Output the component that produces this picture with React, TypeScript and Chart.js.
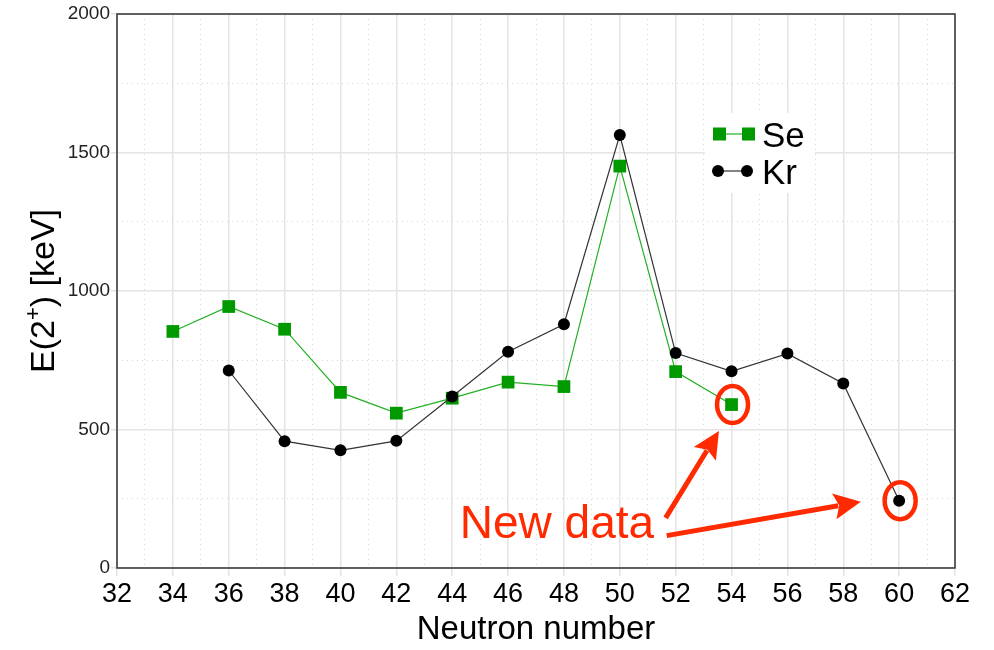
import React, { useEffect, useRef } from "react";
import { Chart, registerables } from "chart.js";

Chart.register(...registerables);

// ---- data ----
const seNeutrons = [34, 36, 38, 40, 42, 44, 46, 48, 50, 52, 54];
const seEnergies = [854, 944, 862, 634, 559, 613, 671, 655, 1451, 709, 590];
const krNeutrons = [36, 38, 40, 42, 44, 46, 48, 50, 52, 54, 56, 58, 60];
const krEnergies = [713, 458, 425, 459, 619, 781, 880, 1563, 776, 710, 774, 666, 243];

const xMin = 32;
const xMax = 62;
const yMin = 0;
const yMax = 2000;

const seLabel = "Se";
const krLabel = "Kr";
const xTitle = "Neutron number";
const yTitleMain = "E(2";
const yTitleSup = "+";
const yTitleEnd = ") [keV]";
const noteText = "New data";
// highlighted points (new data)
const newPoints = [
  { x: 54, y: 590 },
  { x: 60, y: 243 },
];
// annotation anchors in data units
const noteAnchor = { x: 44.27, y: 110 };
const arrows = [
  { from: { x: 51.64, y: 181 }, to: { x: 53.55, y: 495 } },
  { from: { x: 51.68, y: 117 }, to: { x: 58.63, y: 239 } },
];

const FONT = "'Liberation Sans', Arial, Helvetica, sans-serif";
const RED = "#ff2a00";
const GREEN = "#009a00";

const decorPlugin = {
  id: "decor",
  afterDatasetsDraw(chart: any) {
    const ctx = chart.ctx as CanvasRenderingContext2D;
    const ca = chart.chartArea;
    const xs = chart.scales.x;
    const ys = chart.scales.y;
    ctx.save();

    // frame
    ctx.strokeStyle = "#333";
    ctx.lineWidth = 1.5;
    ctx.strokeRect(ca.left, ca.top, ca.right - ca.left, ca.bottom - ca.top);

    // legend
    const lx = ca.left + 588;
    const ly = ca.top + 99;
    ctx.fillStyle = "#fff";
    ctx.fillRect(lx, ly, 110, 80);
    // Se
    const seY = ly + 21;
    ctx.strokeStyle = "#22b022";
    ctx.lineWidth = 1.2;
    ctx.beginPath();
    ctx.moveTo(lx + 14, seY);
    ctx.lineTo(lx + 43, seY);
    ctx.stroke();
    ctx.fillStyle = GREEN;
    ctx.fillRect(lx + 8, seY - 6.5, 13, 13);
    ctx.fillRect(lx + 37, seY - 6.5, 13, 13);
    // Kr
    const krY = ly + 58;
    ctx.strokeStyle = "#333";
    ctx.beginPath();
    ctx.moveTo(lx + 13, krY);
    ctx.lineTo(lx + 42, krY);
    ctx.stroke();
    ctx.fillStyle = "#000";
    ctx.beginPath();
    ctx.arc(lx + 13, krY, 6, 0, Math.PI * 2);
    ctx.fill();
    ctx.beginPath();
    ctx.arc(lx + 42, krY, 6, 0, Math.PI * 2);
    ctx.fill();
    ctx.font = `35px ${FONT}`;
    ctx.textBaseline = "alphabetic";
    ctx.textAlign = "left";
    ctx.fillText(seLabel, lx + 57, seY + 13);
    ctx.fillText(krLabel, lx + 57, krY + 13);

    // ellipses around new data
    ctx.strokeStyle = RED;
    ctx.lineWidth = 4.5;
    newPoints.forEach((p) => {
      const cx = xs.getPixelForValue(p.x) + 1;
      const cy = ys.getPixelForValue(p.y);
      ctx.beginPath();
      ctx.ellipse(cx, cy, 15.5, 18.5, 0, 0, Math.PI * 2);
      ctx.stroke();
    });

    // arrows
    arrows.forEach((a) => {
      const x1 = xs.getPixelForValue(a.from.x);
      const y1 = ys.getPixelForValue(a.from.y);
      const x2 = xs.getPixelForValue(a.to.x);
      const y2 = ys.getPixelForValue(a.to.y);
      const ang = Math.atan2(y2 - y1, x2 - x1);
      const headLen = 27;
      const headW = 13;
      const bx = x2 - headLen * Math.cos(ang);
      const by = y2 - headLen * Math.sin(ang);
      ctx.strokeStyle = RED;
      ctx.lineWidth = 5;
      ctx.beginPath();
      ctx.moveTo(x1, y1);
      ctx.lineTo(bx + 4 * Math.cos(ang), by + 4 * Math.sin(ang));
      ctx.stroke();
      ctx.fillStyle = RED;
      ctx.beginPath();
      ctx.moveTo(x2, y2);
      ctx.lineTo(bx - headW * Math.sin(ang), by + headW * Math.cos(ang));
      ctx.lineTo(bx + 5 * Math.cos(ang), by + 5 * Math.sin(ang));
      ctx.lineTo(bx + headW * Math.sin(ang), by - headW * Math.cos(ang));
      ctx.closePath();
      ctx.fill();
    });

    // note text
    ctx.fillStyle = RED;
    ctx.font = `46px ${FONT}`;
    ctx.textAlign = "left";
    ctx.textBaseline = "alphabetic";
    ctx.fillText(noteText, xs.getPixelForValue(noteAnchor.x), ys.getPixelForValue(noteAnchor.y));

    // y title with superscript
    const cxT = 42;
    const cyT = (ca.top + ca.bottom) / 2;
    ctx.translate(cxT, cyT);
    ctx.rotate(-Math.PI / 2);
    ctx.fillStyle = "#000";
    const big = `34px ${FONT}`;
    const small = `22px ${FONT}`;
    ctx.font = big;
    const w1 = ctx.measureText(yTitleMain).width;
    const w3 = ctx.measureText(yTitleEnd).width;
    ctx.font = small;
    const w2 = ctx.measureText(yTitleSup).width;
    const total = w1 + w2 + w3;
    let px = -total / 2;
    const base = 12;
    ctx.textAlign = "left";
    ctx.font = big;
    ctx.fillText(yTitleMain, px, base);
    px += w1;
    ctx.font = small;
    ctx.fillText(yTitleSup, px, base - 14);
    px += w2;
    ctx.font = big;
    ctx.fillText(yTitleEnd, px, base);

    ctx.restore();
  },
};

export default function App() {
  const canvasRef = useRef<HTMLCanvasElement | null>(null);

  useEffect(() => {
    if (!canvasRef.current) return;
    const chart = new Chart(canvasRef.current, {
      type: "line",
      data: {
        datasets: [
          {
            label: seLabel,
            data: seNeutrons.map((n, i) => ({ x: n, y: seEnergies[i] })),
            borderColor: "#22b022",
            borderWidth: 1.2,
            backgroundColor: GREEN,
            pointBackgroundColor: GREEN,
            pointBorderColor: GREEN,
            pointStyle: "rect",
            pointRadius: 9,
            pointBorderWidth: 0,
            tension: 0,
            order: 2,
          },
          {
            label: krLabel,
            data: krNeutrons.map((n, i) => ({ x: n, y: krEnergies[i] })),
            borderColor: "#333",
            borderWidth: 1.2,
            backgroundColor: "#000",
            pointBackgroundColor: "#000",
            pointBorderColor: "#000",
            pointStyle: "circle",
            pointRadius: 6,
            pointBorderWidth: 0,
            tension: 0,
            order: 1,
          },
        ],
      },
      options: {
        animation: false,
        responsive: false,
        layout: { padding: { top: 14, right: 39, left: 0, bottom: 0 } },
        plugins: {
          legend: { display: false },
          tooltip: { enabled: false },
        },
        scales: {
          x: {
            type: "linear",
            position: "bottom",
            min: xMin,
            max: xMax,
            afterFit: (s: any) => {
              s.height = 82;
            },
            ticks: {
              stepSize: 2,
              color: "#000",
              font: { family: FONT, size: 27 },
              padding: 2,
              callback: (v: any) => String(v),
            },
            grid: {
              color: "#e4e4e4",
              lineWidth: 1.5,
              tickLength: 8,
              tickColor: "#e4e4e4",
            },
            border: { display: false },
            title: {
              display: true,
              text: xTitle,
              color: "#000",
              font: { family: FONT, size: 33 },
              padding: { top: 0, bottom: 0 },
            },
          },
          x2: {
            type: "linear",
            position: "bottom",
            weight: -1,
            min: xMin,
            max: xMax,
            afterFit: (s: any) => {
              s.height = 0;
            },
            ticks: { stepSize: 1, display: false },
            grid: {
              color: (c: any) => (Math.round(c.tick.value) % 2 !== 0 ? "#d6d6d6" : "rgba(0,0,0,0)"),
              lineWidth: 1,
              drawTicks: false,
            },
            border: { display: false, dash: [1, 4] },
          },
          y: {
            type: "linear",
            position: "left",
            min: yMin,
            max: yMax,
            afterFit: (s: any) => {
              s.width = 117;
            },
            ticks: {
              stepSize: 500,
              color: "#222",
              font: { family: FONT, size: 19 },
              padding: 1,
              callback: (v: any) => String(v),
            },
            grid: {
              color: "#e4e4e4",
              lineWidth: 1.5,
              tickLength: 6,
              tickColor: "#e4e4e4",
            },
            border: { display: false },
          },
          y2: {
            type: "linear",
            position: "left",
            weight: -1,
            min: yMin,
            max: yMax,
            afterFit: (s: any) => {
              s.width = 0;
            },
            ticks: { stepSize: 250, display: false },
            grid: {
              color: (c: any) => (Math.round(c.tick.value) % 500 !== 0 ? "#d6d6d6" : "rgba(0,0,0,0)"),
              lineWidth: 1,
              drawTicks: false,
            },
            border: { display: false, dash: [1, 4] },
          },
        },
      },
      plugins: [decorPlugin],
    } as any);
    return () => chart.destroy();
  }, []);

  return (
    <div style={{ position: "absolute", left: 0, top: 0, width: 994, height: 650, background: "#fff" }}>
      <canvas ref={canvasRef} width={994} height={650} style={{ display: "block" }} />
    </div>
  );
}
